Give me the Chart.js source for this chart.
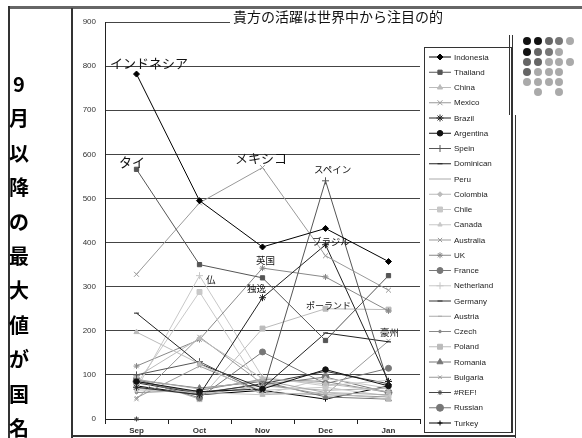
<!DOCTYPE html>
<html><head><meta charset="utf-8">
<script src="https://cdn.jsdelivr.net/npm/chart.js@4/dist/chart.umd.min.js"></script>
<style>
html,body{margin:0;padding:0;background:#fff;}
#wrap{position:relative;width:582px;height:438px;overflow:hidden;background:#fff;font-family:"Noto Sans CJK JP","Liberation Sans",sans-serif;}
canvas{position:absolute;left:0;top:0;}
.ab{position:absolute;}
.jp{position:absolute;white-space:nowrap;color:#111;font-family:"Noto Sans CJK JP",sans-serif;line-height:1;}
.dot{position:absolute;width:8px;height:8px;border-radius:50%;}
</style></head>
<body><div id="wrap">
<canvas id="c" width="582" height="438"></canvas>
</div>
<script>
// ---- data ----
const months = ["Sep","Oct","Nov","Dec","Jan"];
const yTicks = [0,100,200,300,400,500,600,700,800,900];
const seriesNames = ["Indonesia","Thailand","China","Mexico","Brazil","Argentina","Spein","Dominican","Peru","Colombia","Chile","Canada","Australia","UK","France","Netherland","Germany","Austria","Czech","Poland","Romania","Bulgaria","#REF!","Russian","Turkey"];
const indonesia  = [782, 495, 390, 432, 357];
const thailand   = [566, 350, 320, 178, 325];
const china      = [197, 125, 55, 60, 45];
const mexico     = [328, 490, 570, 370, 292];
const brazil     = [72, 55, 275, 395, 85];
const argentina  = [85, 62, 68, 112, 75];
const spein      = [100, 130, 60, 540, 78];
const dominican  = [240, 125, 70, 195, 175];
const peru       = [90, 68, 88, 60, 55];
const colombia   = [95, 183, 92, 80, 62];
const chile      = [78, 288, 65, 72, 52];
const canada     = [66, 60, 55, 92, 70];
const australia  = [45, 186, 80, 55, 177];
const uk         = [120, 180, 342, 322, 245];
const france     = [90, 48, 152, 80, 115];
const netherland = [68, 325, 95, 75, 88];
const germany    = [82, 58, 80, 108, 80];
const austria    = [70, 55, 75, 65, 70];
const czech      = [60, 65, 90, 85, 60];
const poland     = [92, 45, 205, 250, 248];
const romania    = [88, 70, 85, 50, 45];
const bulgaria   = [48, 120, 60, 55, 50];
const ref        = [0, null, null, null, null];
const russian    = [85, 60, 78, 95, 60];
const turkey     = [75, 55, 65, 45, 75];
const titleText = "貴方の活躍は世界中から注目の的";
const sideText = "9月以降の最大値が国名";

const allValues = [indonesia,thailand,china,mexico,brazil,argentina,spein,dominican,peru,colombia,chile,canada,australia,uk,france,netherland,germany,austria,czech,poland,romania,bulgaria,ref,russian,turkey];
// styles
const styles = [
 ["#000","rectRot",3],["#555","rect",3],["#bbb","triangle",3],["#999","crossRot",3.5],
 ["#222","star",3.5],["#111","circle",2.8],["#555","cross",3.5],["#222","line",2.5],
 ["#aaa","circle",0],["#bbb","rectRot",2.5],["#c8c8c8","rect",3.5],["#c8c8c8","triangle",2.5],
 ["#999","crossRot",3],["#888","star",3],["#777","circle",3],["#c8c8c8","cross",3.5],
 ["#333","line",2.5],["#aaa","line",2],["#888","circle",1.3],["#bbb","rect",3.5],
 ["#777","triangle",3.5],["#999","crossRot",2.5],["#444","star",2.5],["#777","circle",3.5],["#000","cross",2.5]
];

const datasets = allValues.map((d,i)=>({
  label: seriesNames[i], data: d,
  borderColor: styles[i][0], backgroundColor: styles[i][0],
  pointStyle: styles[i][1], pointRadius: styles[i][2], pointHoverRadius: styles[i][2],
  pointBorderColor: styles[i][0], pointBackgroundColor: styles[i][0],
  borderWidth: 1, pointBorderWidth: 1, tension: 0, spanGaps: false, clip: 6
}));

const legendPlugin = {
  id: 'customLegend',
  afterDraw(chart){
    const ctx = chart.ctx;
    ctx.save();
    chart.data.datasets.forEach((ds,i)=>{
      const y = 57 + i*15.25;
      ctx.strokeStyle = ds.borderColor; ctx.lineWidth = 1;
      ctx.beginPath(); ctx.moveTo(429,y); ctx.lineTo(451,y); ctx.stroke();
      if (ds.pointRadius > 0) {
        ctx.fillStyle = ds.pointBackgroundColor; ctx.strokeStyle = ds.pointBorderColor; ctx.lineWidth = 1;
        Chart.helpers.drawPoint(ctx, {pointStyle: ds.pointStyle, radius: ds.pointRadius, rotation: 0, borderWidth: 1}, 440, y);
      }
      ctx.fillStyle = "#222"; ctx.font = "8px 'Liberation Sans', Arial, sans-serif";
      ctx.textBaseline = "middle"; ctx.textAlign = "left";
      ctx.fillText(ds.label, 454, y+0.5);
    });
    ctx.restore();
  }
};

new Chart(document.getElementById('c'), {
  type: 'line',
  data: { labels: months, datasets },
  options: {
    responsive: false, animation: false, devicePixelRatio: 1,
    layout: { padding: { left: 72, right: 162, top: 22, bottom: 2 } },
    plugins: { legend: { display: false }, tooltip: { enabled: false }, title: { display: false } },
    scales: {
      x: {
        offset: true,
        grid: { display: true, drawOnChartArea: false, drawTicks: true, tickLength: 5, color: "#222", offset: true },
        border: { display: true, color: "#222", width: 1 },
        ticks: { color: "#333", font: { size: 8, weight: 'bold', family: "'Liberation Sans', Arial, sans-serif" }, padding: 2, maxRotation: 0 },
        afterFit: s => { s.height = 17; }
      },
      y: {
        min: 0, max: 900,
        afterBuildTicks: s => { s.ticks = yTicks.map(v => ({ value: v })); },
        grid: { color: "#444", lineWidth: 1, drawTicks: false },
        border: { display: true, color: "#222", width: 1 },
        ticks: { color: "#333", font: { size: 8, family: "'Liberation Sans', Arial, sans-serif" }, padding: 9 },
        afterFit: s => { s.width = 33; }
      }
    }
  },
  plugins: [legendPlugin]
});

// ---- decorative frame & text overlays ----
const wrap = document.getElementById('wrap');
function add(html){ wrap.insertAdjacentHTML('beforeend', html); }
add('<div class="ab" style="left:8px;top:6px;width:574px;height:0;border-top:3px solid #666;"></div>');
add('<div class="ab" style="left:8px;top:6px;width:0;height:432px;border-left:2px solid #333;"></div>');
add('<div class="ab" style="left:71px;top:8px;width:0;height:430px;border-left:2px solid #333;"></div>');
add('<div class="ab" style="left:72px;top:435px;width:444px;height:0;border-top:2px solid #333;"></div>');
add('<div class="ab" style="left:424px;top:47px;width:86px;height:384px;border:1px solid #333;border-right:2px solid #333;"></div>');
add('<div class="ab" style="left:509px;top:35px;width:2px;height:80px;border-left:1px solid #333;border-right:1px solid #333;"></div>');
add('<div class="ab" style="left:515px;top:115px;width:0;height:323px;border-left:1px solid #333;"></div>');
// title
add('<div class="jp" style="left:230px;top:9px;font-size:14px;background:#fff;padding:0 3px;">'+titleText+'</div>');
// side vertical text
[...sideText].forEach((ch,i)=>{
  add('<div class="jp" style="left:8px;width:22px;text-align:center;top:'+(74+i*34.4)+'px;font-size:20px;font-weight:bold;color:#000;">'+ch+'</div>');
});
// annotations
const annos = [
 ["インドネシア",110,56,13],["タイ",119,155,13],["メキシコ",235,151,13],["スペイン",314,165,9.5],
 ["ブラジル",312,237,9.5],["英国",256,256,9.5],["独逸",247,284,9.5],["仏",206,275,9.5],
 ["ポーランド",306,301,9],["豪州",380,328,9.5]
];
annos.forEach(a=>add('<div class="jp" style="left:'+a[1]+'px;top:'+a[2]+'px;font-size:'+a[3]+'px;">'+a[0]+'</div>'));
// dots decoration
const dotRows = [
 ["#111","#111","#666","#777","#aaa"],
 ["#111","#666","#777","#aaa"],
 ["#666","#666","#aaa","#aaa","#aaa"],
 ["#666","#aaa","#aaa","#aaa"],
 ["#aaa","#aaa","#aaa","#aaa"],
 [null,"#aaa",null,"#aaa"]
];
const dotX=[523,534,545,555,566], dotY=[37,48,58,68,78,88];
dotRows.forEach((r,ri)=>r.forEach((c,ci)=>{ if(c) add('<div class="dot" style="left:'+dotX[ci]+'px;top:'+dotY[ri]+'px;background:'+c+';"></div>'); }));
</script>
</body></html>
